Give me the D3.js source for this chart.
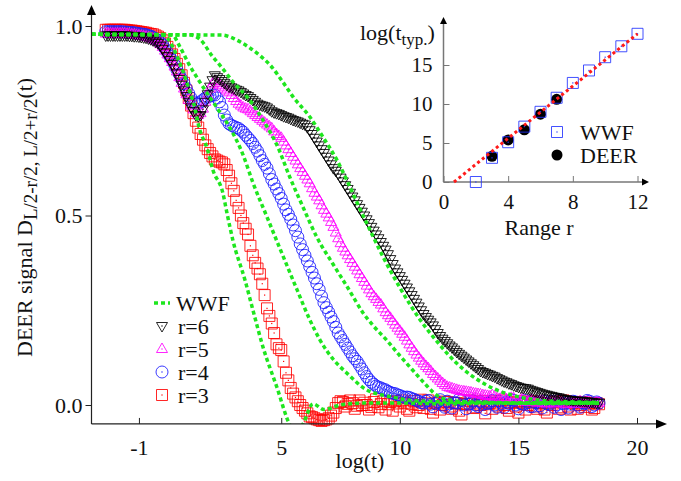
<!DOCTYPE html>
<html>
<head>
<meta charset="utf-8">
<script src="https://d3js.org/d3.v7.min.js"></script>
<style>
  body { margin: 0; background: #fff; }
  svg { display: block; }
  text { font-family: "Liberation Serif", "Times New Roman", serif; fill: #111; }
</style>
</head>
<body>
<svg id="chart" width="681" height="481"></svg>
<script>
// ----------------------
// DATA
// ----------------------
// common log(t) grid of the DEER runs
const logT = [
  -2.4,-2.3,-2.2,-2.1,-2.0,-1.9,-1.8,-1.7,-1.6,-1.5,
  -1.4,-1.3,-1.2,-1.1,-1.0,-0.9,-0.8,-0.7,-0.6,-0.5,
  -0.4,-0.3,-0.2,-0.1,0.0,0.1,0.2,0.3,0.4,0.5,
  0.6,0.7,0.8,0.9,1.0,1.1,1.2,1.3,1.4,1.5,
  1.6,1.7,1.8,1.9,2.0,2.1,2.2,2.3,2.4,2.5,
  2.6,2.7,2.8,2.9,3.0,3.1,3.2,3.3,3.4,3.5,
  3.6,3.7,3.8,3.9,4.0,4.1,4.2,4.3,4.4,4.5,
  4.6,4.7,4.8,4.9,5.0,5.1,5.2,5.3,5.4,5.5,
  5.6,5.7,5.8,5.9,6.0,6.1,6.2,6.3,6.4,6.5,
  6.6,6.7,6.8,6.9,7.0,7.1,7.2,7.3,7.4,7.5,
  7.6,7.7,7.8,7.9,8.0,8.1,8.2,8.3,8.4,8.5,
  8.6,8.7,8.8,8.9,9.0,9.1,9.2,9.3,9.4,9.5,
  9.6,9.7,9.8,9.9,10.0,10.1,10.2,10.3,10.4,10.5,
  10.6,10.7,10.8,10.9,11.0,11.1,11.2,11.3,11.4,11.5,
  11.6,11.7,11.8,11.9,12.0,12.1,12.2,12.3,12.4,12.5,
  12.6,12.7,12.8,12.9,13.0,13.1,13.2,13.3,13.4,13.5,
  13.6,13.7,13.8,13.9,14.0,14.1,14.2,14.3,14.4,14.5,
  14.6,14.7,14.8,14.9,15.0,15.1,15.2,15.3,15.4,15.5,
  15.6,15.7,15.8,15.9,16.0,16.1,16.2,16.3,16.4,16.5,
  16.6,16.7,16.8,16.9,17.0,17.1,17.2,17.3,17.4,17.5,
  17.6,17.7,17.8,17.9,18.0,18.1,18.2,18.3,18.4
];

const deerR3 = [
  .99,.99,.99,.99,.99,.99,.99,.99,.99,.989,
  .988,.988,.987,.986,.985,.984,.983,.982,.98,.979,
  .978,.975,.972,.968,.962,.954,.945,.935,.925,.913,
  .90,.886,.87,.85,.83,.81,.79,.77,.75,.732,
  .715,.70,.685,.675,.665,.656,.648,.645,.642,.64,
  .635,.62,.605,.585,.565,.54,.52,.50,.48,.465,
  .45,.42,.395,.375,.36,.345,.32,.29,.255,.235,
  .215,.19,.16,.15,.145,.115,.085,.065,.045,.03,
  .02,.01,0,-.008,-.015,-.022,-.03,-.032,-.035,-.038,
  -.04,-.042,-.04,-.038,-.035,-.028,-.02,-.008,.005,.01,
  .008,-.004,.003,.012,.005,-.01,-.002,.012,0,.006,
  0,-.012,-.005,.008,.015,-.006,.003,.01,-.012,.002,
  .008,-.015,.01,.004,-.004,.012,.006,-.01,-.015,.003,
  .01,-.006,0,.014,-.008,.004,.012,-.01,-.02,.006,
  .004,-.012,0,.009,.008,-.004,-.01,.006,.005,-.015,
  -.025,.003,.002,.012,.01,-.008,-.006,.004,0,.01,
  -.022,.002,.006,-.01,.01,.004,-.004,.012,0,-.008,
  -.015,.005,.008,-.004,-.02,.01,.004,-.012,0,.008,
  .01,-.004,-.01,.006,.005,-.012,-.02,.004,0,.01,
  .008,-.01,-.006,.012,.01,-.004,-.012,.006,.004,-.01,
  0,.008,-.005,.004,.006,-.012,-.008,.005,.002
];

const deerR4 = [
  .985,.985,.985,.985,.985,.985,.985,.985,.984,.984,
  .983,.983,.982,.981,.98,.979,.978,.977,.975,.973,
  .97,.966,.962,.957,.95,.94,.93,.92,.91,.898,
  .885,.873,.86,.848,.835,.822,.81,.80,.795,.795,
  .80,.805,.81,.813,.815,.818,.818,.81,.80,.785,
  .765,.752,.742,.738,.735,.732,.73,.725,.72,.712,
  .705,.698,.69,.68,.67,.658,.645,.635,.625,.61,
  .595,.583,.57,.558,.545,.53,.515,.503,.49,.475,
  .46,.443,.425,.41,.395,.38,.365,.35,.335,.32,
  .305,.287,.27,.257,.245,.232,.22,.205,.19,.18,
  .17,.16,.15,.14,.13,.122,.115,.105,.095,.085,
  .075,.067,.06,.055,.05,.047,.045,.042,.04,.036,
  .033,.031,.03,.027,.025,.022,.02,.021,.02,.017,
  .015,.012,.01,.006,.005,.01,.012,.002,-.005,.004,
  .008,.014,0,-.006,.01,.003,-.008,.006,.005,.015,
  .012,0,-.01,.002,.004,.011,0,-.004,.008,.002,
  -.012,.004,.006,.012,0,-.006,.01,.004,-.006,.008,
  .004,.014,.012,0,-.01,.004,.002,.012,.006,-.004,
  -.004,.006,.008,-.002,-.008,.01,.004,.002,.01,-.006,
  0,.012,-.012,.004,.006,-.008,.002,.01,.008,0,
  -.006,.006,.004,.012,.01,-.004,0,.008,.005
];

const deerR5 = [
  .98,.98,.98,.98,.98,.98,.98,.98,.98,.979,
  .978,.978,.977,.976,.975,.974,.973,.972,.97,.968,
  .965,.962,.958,.952,.945,.935,.925,.915,.905,.893,
  .88,.865,.85,.835,.82,.805,.79,.78,.77,.765,
  .77,.782,.80,.818,.835,.848,.855,.85,.845,.84,
  .835,.83,.825,.818,.81,.802,.795,.79,.785,.782,
  .78,.775,.77,.765,.76,.755,.75,.745,.74,.735,
  .73,.722,.715,.71,.705,.695,.685,.675,.665,.655,
  .645,.635,.625,.615,.605,.595,.585,.572,.56,.55,
  .54,.527,.515,.505,.495,.483,.47,.455,.44,.427,
  .415,.405,.395,.385,.375,.365,.355,.345,.335,.325,
  .315,.305,.295,.287,.28,.272,.265,.255,.245,.237,
  .23,.221,.212,.204,.196,.188,.18,.17,.16,.151,
  .142,.133,.125,.117,.11,.103,.097,.09,.082,.076,
  .07,.064,.058,.053,.048,.046,.044,.042,.04,.038,
  .037,.036,.035,.034,.033,.031,.03,.029,.028,.026,
  .025,.024,.023,.026,.022,.018,.016,.02,.021,.015,
  .014,.019,.018,.012,.01,.015,.016,.009,.008,.014,
  .013,.008,.006,.011,.012,.005,.004,.01,.01,.004,
  .006,.01,.011,.004,.002,.009,.009,.003,.005,.008,
  .01,.005,.003,.008,.008,.003,.004,.007,.006
];

const deerR6 = [
  .975,.975,.975,.975,.975,.975,.975,.975,.975,.975,
  .974,.974,.973,.973,.972,.971,.97,.969,.967,.965,
  .962,.959,.955,.948,.94,.93,.92,.91,.90,.888,
  .875,.86,.845,.83,.815,.80,.785,.775,.765,.762,
  .765,.78,.80,.82,.84,.857,.87,.865,.86,.855,
  .85,.845,.84,.838,.835,.832,.83,.826,.822,.818,
  .815,.81,.805,.80,.795,.792,.79,.788,.785,.78,
  .775,.772,.77,.768,.765,.762,.76,.758,.755,.752,
  .75,.748,.745,.742,.74,.733,.725,.715,.705,.695,
  .685,.675,.665,.655,.645,.635,.625,.618,.61,.60,
  .59,.58,.57,.56,.55,.54,.53,.52,.51,.50,
  .49,.48,.47,.46,.45,.44,.43,.42,.41,.398,
  .385,.372,.36,.35,.34,.33,.32,.31,.30,.29,
  .28,.27,.26,.25,.24,.232,.225,.218,.21,.20,
  .19,.182,.175,.169,.163,.157,.152,.146,.14,.135,
  .13,.125,.12,.115,.11,.105,.10,.095,.09,.087,
  .085,.082,.08,.077,.075,.071,.068,.065,.062,.06,
  .057,.055,.052,.05,.048,.046,.045,.044,.043,.04,
  .038,.036,.034,.032,.03,.028,.027,.025,.024,.022,
  .021,.02,.018,.016,.015,.014,.013,.012,.012,.011,
  .011,.01,.01,.009,.008,.008,.007,.006,.006
];

// WWF curves: [log(t), signal]
const wwfR3 = [[-3,0.978],[0.0,0.977],[0.2,0.968],[0.45,0.942],[0.8,0.89],[1.15,0.826],[1.3,0.797],
  [1.57,0.725],[1.87,0.678],[2.12,0.62],[2.54,0.559],[2.71,0.507],[2.96,0.435],[3.47,0.33],[3.85,0.24],
  [4.23,0.153],[4.8,0.05],[5.37,-0.053],[5.65,-0.075],[5.92,-0.05],[6.34,0.003],[6.8,-0.012],[7.5,0.0],
  [8.5,0.005],[10,0.005],[12,0.003],[14,0.005],[16,0.004],[18.4,0.005]];
const wwfR4 = [[-3,0.978],[0.4,0.976],[0.73,0.945],[1.1,0.9],[1.57,0.852],[2.29,0.784],[2.84,0.731],
  [3.39,0.66],[3.81,0.586],[4.4,0.496],[4.95,0.412],[5.66,0.305],[6.21,0.224],[6.63,0.172],[7.2,0.12],
  [7.77,0.084],[8.6,0.04],[9.7,0.021],[10.5,0.012],[12,0.008],[14,0.006],[16,0.005],[18.4,0.005]];
const wwfR5 = [[-3,0.978],[1.2,0.976],[1.57,0.965],[2.1,0.92],[2.5,0.89],[3.0,0.85],[3.6,0.81],
  [4.2,0.755],[4.86,0.68],[5.37,0.60],[5.92,0.522],[6.5,0.443],[7.2,0.37],[7.8,0.31],[8.45,0.243],
  [8.87,0.21],[9.46,0.17],[10.0,0.13],[10.5,0.095],[11.0,0.06],[11.57,0.025],[12.2,0.012],[13,0.008],
  [15,0.006],[18.4,0.005]];
const wwfR6 = [[-3,0.978],[2.5,0.976],[2.96,0.968],[3.3,0.957],[3.68,0.942],[4.1,0.922],[4.53,0.897],
  [5.07,0.852],[5.5,0.813],[6.21,0.76],[6.76,0.707],[7.35,0.646],[7.9,0.575],[8.19,0.535],[8.83,0.45],
  [9.3,0.39],[10.0,0.31],[10.8,0.23],[11.6,0.165],[12.4,0.11],[13.2,0.07],[14.0,0.042],[14.8,0.025],
  [15.6,0.015],[16.5,0.01],[18.4,0.007]];

// inset: typical time vs range
const insetWwfR = [2,3,4,5,6,7,8,9,10,11,12];
const insetWwfVal = [0.0,3.1,5.1,7.1,9.0,10.8,12.7,14.3,16.0,17.4,19.0];
const insetDeerR = [3,4,5,6,7];
const insetDeerVal = [3.3,5.4,6.7,8.7,10.6];
const fitR = [0.65,12.0];
const fitVal = [0.0,19.0];

const mainXTicks = [-1,5,10,15,20];
const mainYTicks = [0,0.5,1.0];
const insetXTicks = [0,4,8,12];
const insetYTicks = [0,5,10,15];

// ----------------------
// SETUP
// ----------------------
const svg = d3.select("#chart");
svg.append("rect").attr("width",681).attr("height",481).attr("fill","#fff");

const x = d3.scaleLinear().domain([-3,20]).range([91.5,637]);
const y = d3.scaleLinear().domain([0,1]).range([405,26]);

const GREEN = "#1ee61e";
const FONT = 22;

const shapes = {
  triDown: "M-5.5,-3.5L5.5,-3.5L0,6Z",
  triUp: "M-5.5,3.5L5.5,3.5L0,-6Z",
  square: "M-5.5,-5.5H5.5V5.5H-5.5Z",
  circle: "M6,0A6,6 0 1,1 -6,0A6,6 0 1,1 6,0Z"
};

const deerSeries = [
  {label:"r=3", values:deerR3, shape:"square", color:"#ff0000"},
  {label:"r=4", values:deerR4, shape:"circle", color:"#1a1aff"},
  {label:"r=5", values:deerR5, shape:"triUp", color:"#ff00ff"},
  {label:"r=6", values:deerR6, shape:"triDown", color:"#000000"}
];
const wwfCurves = [wwfR3, wwfR4, wwfR5, wwfR6];

function drawMarker(g, shape, color){
  g.append("path").attr("d", shapes[shape]).attr("fill","none")
    .attr("stroke", color).attr("stroke-width",1).attr("stroke-opacity",0.85);
  g.append("rect").attr("x",-0.6).attr("y",-0.6).attr("width",1.2).attr("height",1.2)
    .attr("fill", color);
}

svg.append("clipPath").attr("id","mainClip")
  .append("rect").attr("x",91.5).attr("y",0).attr("width",575).attr("height",y(-0.05));

// ----------------------
// MAIN PLOT
// ----------------------
const plotG = svg.append("g");

deerSeries.forEach(s=>{
  const pts = logT.map((t,i)=>[t, s.values[i]]);
  plotG.append("g").selectAll("g").data(pts).join("g")
    .attr("transform", d=>`translate(${x(d[0])},${y(d[1])})`)
    .each(function(){ drawMarker(d3.select(this), s.shape, s.color); });
});

const wwfLine = d3.line().x(d=>x(d[0])).y(d=>y(d[1])).curve(d3.curveMonotoneX);
plotG.append("g").attr("clip-path","url(#mainClip)")
  .selectAll("path").data(wwfCurves).join("path")
  .attr("d", wwfLine).attr("fill","none").attr("stroke",GREEN)
  .attr("stroke-width",3.5).attr("stroke-dasharray","4,3");

// axes
const axisColor = "#222";
const xAxisG = svg.append("g").attr("transform",`translate(0,${y(-0.05)})`)
  .call(d3.axisBottom(x).tickValues(mainXTicks).tickSizeInner(-6).tickSizeOuter(0)
    .tickPadding(15).tickFormat(d=>String(d)));
const yAxisG = svg.append("g").attr("transform",`translate(${x(-3)},0)`)
  .call(d3.axisLeft(y).tickValues(mainYTicks).tickSizeInner(6).tickSizeOuter(0)
    .tickPadding(3).tickFormat(d3.format(".1f")));
[xAxisG, yAxisG].forEach(g=>{
  g.select(".domain").remove();
  g.attr("font-size",FONT).attr("font-family",null).attr("color",axisColor);
});

const x0 = x(-3), yBot = y(-0.05);
svg.append("line").attr("x1",x0).attr("x2",656).attr("y1",yBot).attr("y2",yBot)
  .attr("stroke",axisColor).attr("stroke-width",1.2);
svg.append("path").attr("d",`M656,${yBot-4.5}L667,${yBot}L656,${yBot+4.5}Z`).attr("fill","#000");
svg.append("line").attr("x1",x0).attr("x2",x0).attr("y1",yBot).attr("y2",15)
  .attr("stroke",axisColor).attr("stroke-width",1.2);
svg.append("path").attr("d",`M${x0-4.5},15L${x0},5L${x0+4.5},15Z`).attr("fill","#000");

// axis titles
svg.append("text").attr("x",360).attr("y",468).attr("text-anchor","middle")
  .attr("font-size",FONT).text("log(t)");

const yt = svg.append("text").attr("transform","translate(32,357) rotate(-90)")
  .attr("font-size",FONT);
yt.append("tspan").text("DEER signal D");
yt.append("tspan").attr("font-size",19).attr("dy",5).text("L/2-r/2, L/2+r/2");
yt.append("tspan").attr("dy",-5).text("(t)");

// legend
const legG = svg.append("g");
const legRows = [303,326,349,372,395];
legG.append("line").attr("x1",154).attr("x2",170).attr("y1",legRows[0]).attr("y2",legRows[0])
  .attr("stroke",GREEN).attr("stroke-width",3.5).attr("stroke-dasharray","4,3");
legG.append("text").attr("x",176).attr("y",legRows[0]+8).attr("font-size",FONT).text("WWF");
deerSeries.slice().reverse().forEach((s,i)=>{
  const cy = legRows[i+1];
  const m = legG.append("g").attr("transform",`translate(162,${cy})`);
  drawMarker(m, s.shape, s.color);
  legG.append("text").attr("x",178).attr("y",cy+8).attr("font-size",FONT).text(s.label);
});

// ----------------------
// INSET
// ----------------------
const xi = d3.scaleLinear().domain([0,12]).range([443.5,637.5]);
const yi = d3.scaleLinear().domain([0,15]).range([182,65]);
const insetColor = "#777";

const ixG = svg.append("g").attr("transform",`translate(0,${yi(0)})`)
  .call(d3.axisBottom(xi).tickValues(insetXTicks).tickSizeInner(-6).tickSizeOuter(0).tickPadding(12));
const iyG = svg.append("g").attr("transform",`translate(${xi(0)},0)`)
  .call(d3.axisLeft(yi).tickValues(insetYTicks).tickSizeInner(-6).tickSizeOuter(0).tickPadding(11));
[ixG, iyG].forEach(g=>{
  g.select(".domain").remove();
  g.attr("font-size",21).attr("font-family",null).attr("color",insetColor);
  g.selectAll("text").attr("fill","#111");
});
svg.append("line").attr("x1",xi(0)).attr("x2",643).attr("y1",yi(0)).attr("y2",yi(0))
  .attr("stroke",insetColor).attr("stroke-width",1.5);
svg.append("path").attr("d",`M642,${yi(0)-3.5}L649,${yi(0)}L642,${yi(0)+3.5}Z`).attr("fill","#000");
svg.append("line").attr("x1",xi(0)).attr("x2",xi(0)).attr("y1",yi(0)).attr("y2",24)
  .attr("stroke",insetColor).attr("stroke-width",1.5);
svg.append("path").attr("d",`M${xi(0)-3.5},24L${xi(0)},17L${xi(0)+3.5},24Z`).attr("fill","#000");

svg.append("g").selectAll("circle").data(insetDeerR.map((r,i)=>[r, insetDeerVal[i]])).join("circle")
  .attr("cx",d=>xi(d[0])).attr("cy",d=>yi(d[1])).attr("r",5.5).attr("fill","#000");
svg.append("g").selectAll("g").data(insetWwfR.map((r,i)=>[r, insetWwfVal[i]])).join("g")
  .attr("transform",d=>`translate(${xi(d[0])},${yi(d[1])})`)
  .each(function(){ drawMarker(d3.select(this), "square", "#2233ff"); });

// red fit line drawn over the markers
svg.append("path").datum(fitR.map((r,i)=>[r, fitVal[i]]))
  .attr("d", d3.line().x(d=>xi(d[0])).y(d=>yi(d[1])))
  .attr("stroke","#ff1a1a").attr("stroke-width",3).attr("stroke-dasharray","3,3").attr("fill","none");

// inset titles
const it = svg.append("text").attr("x",360).attr("y",40).attr("font-size",FONT);
it.append("tspan").text("log(t");
it.append("tspan").attr("font-size",17).attr("dy",5).text("typ.");
it.append("tspan").attr("dy",-5).text(")");
svg.append("text").attr("x",539).attr("y",235).attr("text-anchor","middle")
  .attr("font-size",FONT).text("Range r");

// inset legend
const il = svg.append("g");
const ilSq = il.append("g").attr("transform","translate(557,132)");
drawMarker(ilSq, "square", "#2233ff");
il.append("text").attr("x",580).attr("y",140).attr("font-size",FONT).text("WWF");
il.append("circle").attr("cx",557).attr("cy",155).attr("r",5.5).attr("fill","#000");
il.append("text").attr("x",580).attr("y",163).attr("font-size",FONT).text("DEER");
</script>
</body>
</html>
